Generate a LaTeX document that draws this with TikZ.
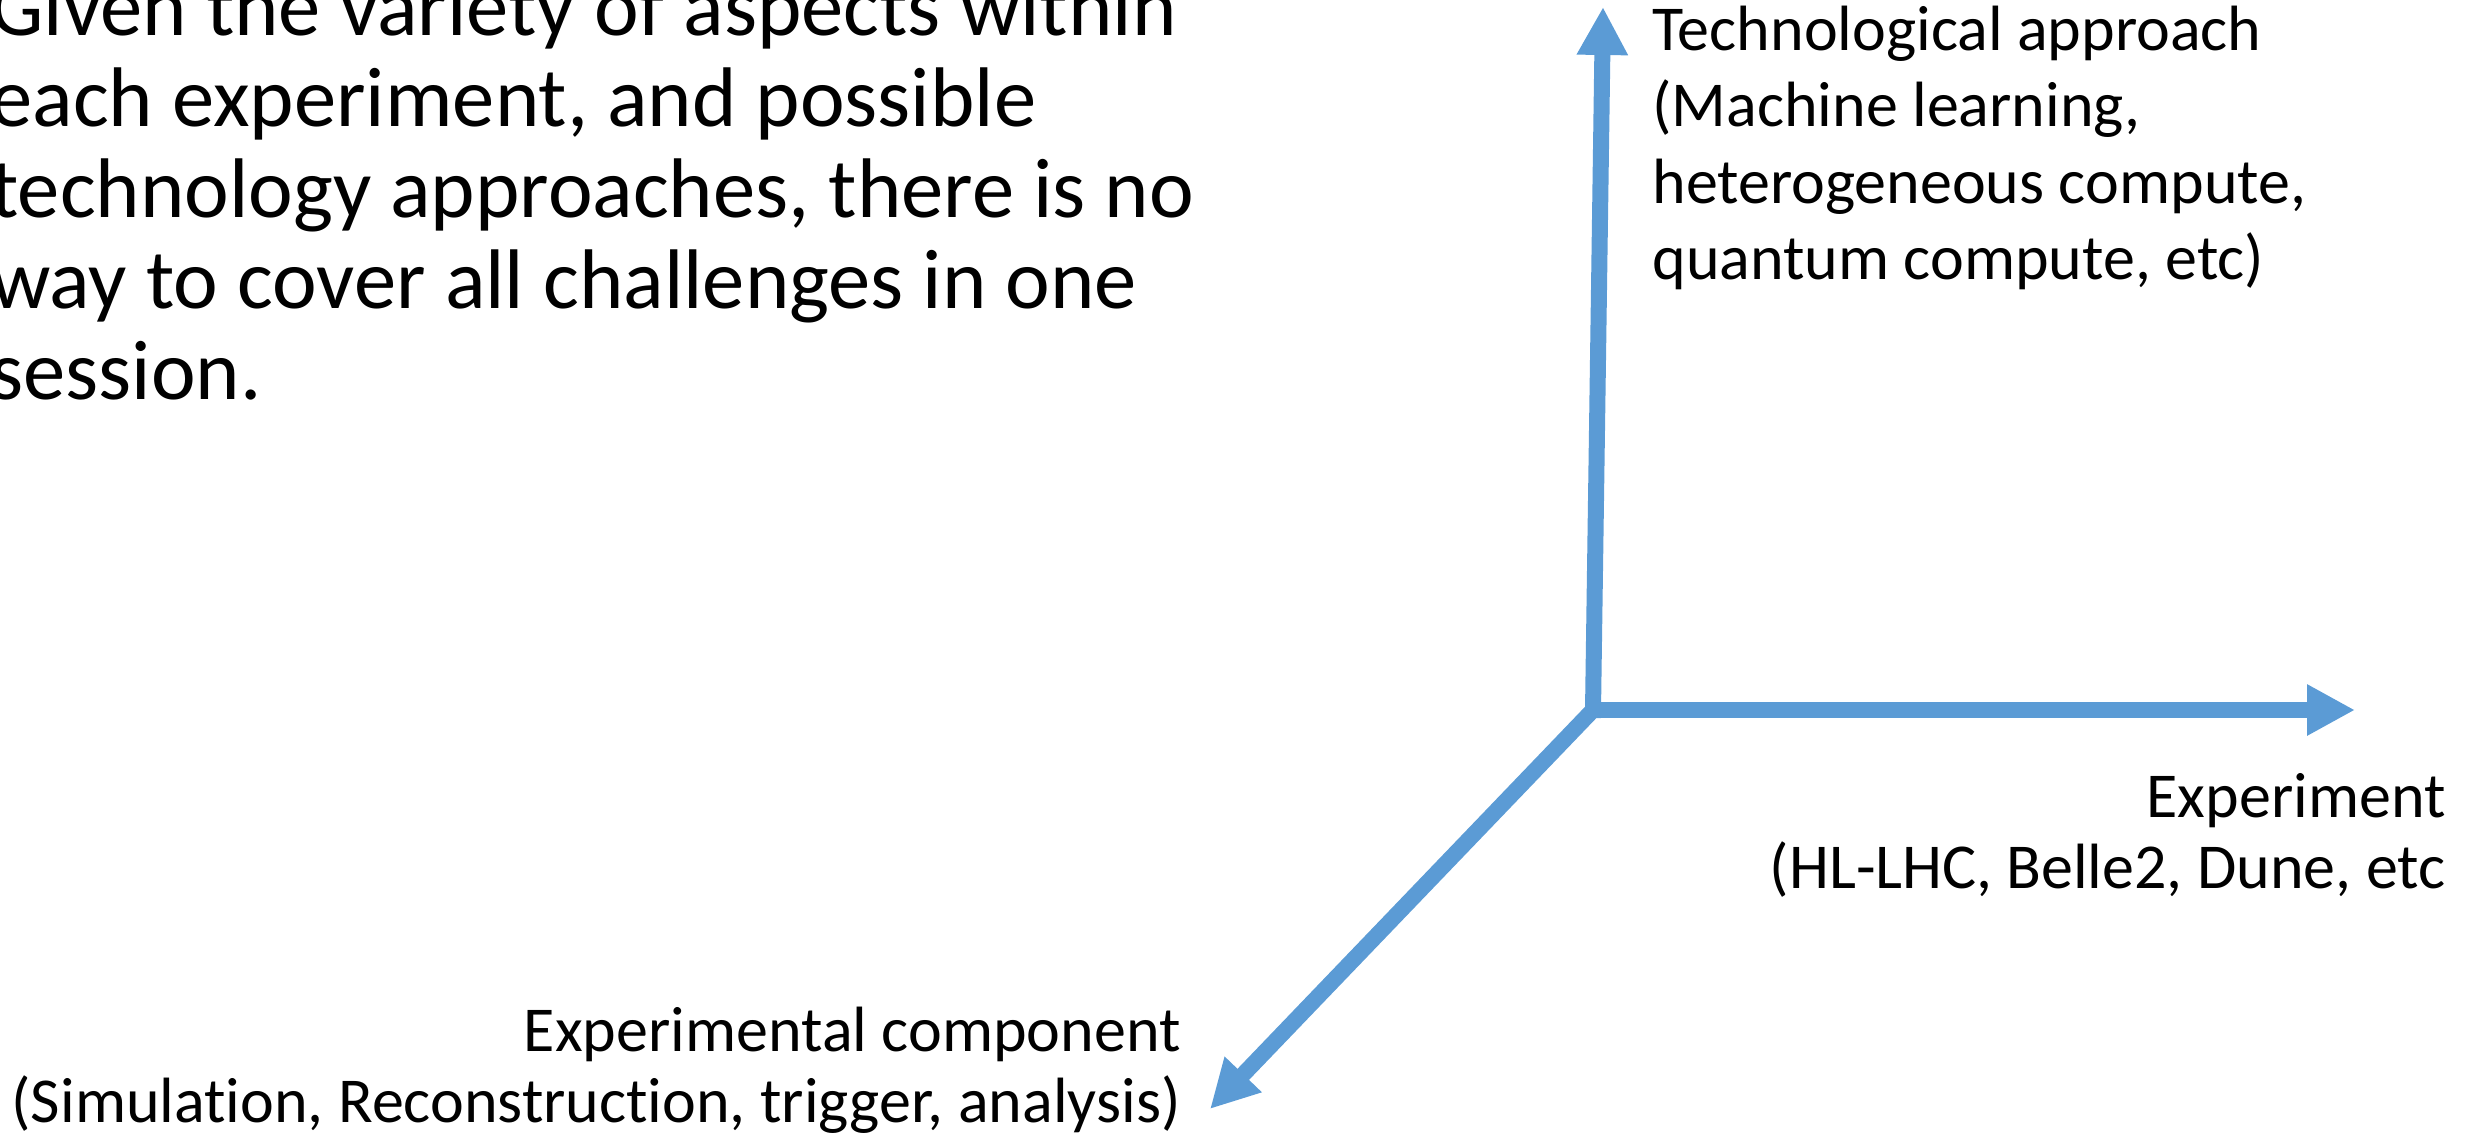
\documentclass[tikz,border=0pt]{standalone}
\usepackage{fontspec}
\setmainfont{Carlito}[Ligatures=NoCommon]
\usepackage{tikz}
\definecolor{ax}{RGB}{91, 155, 213}
\usetikzlibrary{arrows.meta}

\begin{document}
\begin{tikzpicture}[axisline/.style={line width=8pt, color=ax, line cap=rect, -{Triangle[length=24pt, width=24pt]}},
axistext/.style={inner sep=0pt, align=right, font=\fontsize{32pt}{35.5pt}\selectfont}]
\useasboundingbox (0pt, 0pt) rectangle (1233pt, -572pt);
\clip (0pt, 0pt) rectangle (1233pt, -572pt);
\coordinate (o) at (796.5pt, -355.0pt);
\coordinate (tech) at (801.5pt, -3.5pt);
\coordinate (exp) at (1177.5pt, -355.0pt);
\coordinate (comp) at (605.0pt, -554.5pt);
\draw [axisline] (o) to (tech);
\draw [axisline] (o) to (exp);
\draw [axisline] (o) to (comp);
\node (techlbl) [inner sep=0pt, align=left, anchor=base west, font=\fontsize{32pt}{38.3pt}\selectfont] at (826.0pt, -140.0pt) {Technological approach\\(Machine learning,\\heterogeneous compute,\\quantum compute, etc)};
\node (explbl) [axistext, anchor=base east] at (1223.0pt, -444.0pt) {Experiment\\(HL-LHC, Belle2, Dune, etc};
\node (complbl) [axistext, anchor=base east] at (590.5pt, -561.0pt) {Experimental component\\(Simulation, Reconstruction, trigger, analysis)};
\node (note) [inner sep=0pt, align=left, anchor=base west, font=\fontsize{42.3pt}{45.6pt}\selectfont] at (-5.0pt, -200.0pt) {Given the variety of aspects within\\each experiment, and possible\\technology approaches, there is no\\way to cover all challenges in one\\session.};
\end{tikzpicture}
\end{document}
